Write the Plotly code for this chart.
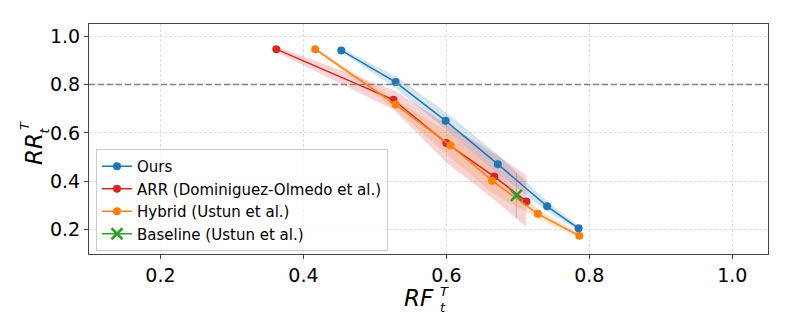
"""
Recourse trade-off chart: RR_t^T vs RF_t^T for several methods, with shaded std bands.
"""

import plotly.graph_objects as go

# Series values
ours_x = [0.453, 0.529, 0.599, 0.672, 0.741, 0.785]
ours_y = [0.941, 0.810, 0.650, 0.471, 0.297, 0.206]
ours_std = [0.008, 0.025, 0.035, 0.04, 0.02, 0.01]

arr_x = [0.362, 0.526, 0.600, 0.667, 0.712]
arr_y = [0.946, 0.737, 0.558, 0.420, 0.317]
arr_std = [0.012, 0.04, 0.08, 0.096, 0.107]

hybrid_x = [0.4165, 0.529, 0.606, 0.664, 0.728, 0.786]
hybrid_y = [0.946, 0.717, 0.548, 0.403, 0.266, 0.175]
hybrid_std = [0.006, 0.02, 0.05, 0.05, 0.02, 0.01]

baseline_x = [0.698]
baseline_y = [0.342]
baseline_err = [0.093]

threshold = 0.8
tick_vals = [0.2, 0.4, 0.6, 0.8, 1.0]

COLORS = {
    "blue": "#1f77b4",
    "red": "#d62728",
    "orange": "#ff7f0e",
    "green": "#2ca02c",
}
FONT = "DejaVu Sans"

# The page body adds an 8px offset, so margins are shifted to compensate.
OFFSET = 8
# pixel geometry of the plot area in the final picture
L, R, T, B = 89, 768, 24, 254
W, H = 793, 331


def px_to_paper(px, py):
    return (px - L) / (R - L), (B - py) / (B - T)


def rgba(hex_color, alpha):
    h = hex_color.lstrip("#")
    r, g, b = int(h[0:2], 16), int(h[2:4], 16), int(h[4:6], 16)
    return f"rgba({r},{g},{b},{alpha})"


fig = go.Figure()

series = [
    ("Ours", ours_x, ours_y, ours_std, "blue"),
    ("ARR (Dominiguez-Olmedo et al.)", arr_x, arr_y, arr_std, "red"),
    ("Hybrid (Ustun et al.)", hybrid_x, hybrid_y, hybrid_std, "orange"),
]

# shaded bands first
for name, xs, ys, sd, color in series:
    upper = [y + s for y, s in zip(ys, sd)]
    lower = [y - s for y, s in zip(ys, sd)]
    fig.add_trace(
        go.Scatter(
            x=xs + xs[::-1],
            y=upper + lower[::-1],
            fill="toself",
            fillcolor=rgba(COLORS[color], 0.2),
            line=dict(width=0),
            mode="lines",
            hoverinfo="skip",
            showlegend=False,
        )
    )

for name, xs, ys, sd, color in series:
    fig.add_trace(
        go.Scatter(
            x=xs,
            y=ys,
            name=name,
            mode="lines+markers",
            line=dict(color=COLORS[color], width=1.5),
            marker=dict(size=8, color=COLORS[color]),
        )
    )

fig.add_trace(
    go.Scatter(
        x=baseline_x,
        y=baseline_y,
        name="Baseline (Ustun et al.)",
        mode="lines+markers",
        line=dict(color=COLORS["green"], width=1.5),
        marker=dict(symbol="x-thin", size=11, color=COLORS["green"],
                    line=dict(width=2.5, color=COLORS["green"])),
        error_y=dict(type="data", array=baseline_err, color="rgba(128,128,128,0.45)",
                     thickness=1, width=0),
    )
)

fig.add_hline(y=threshold, line_dash="6px,3px", line_color="#808080", line_width=1.5)

axis_common = dict(
    range=[0.1, 1.05],
    tickvals=tick_vals,
    tickformat=".1f",
    tickfont=dict(family=FONT, size=19, color="black"),
    showgrid=True,
    gridcolor="#dcdcdc",
    griddash="3px,2px",
    gridwidth=1,
    zeroline=False,
    showline=True,
    mirror=True,
    linecolor="#444444",
    linewidth=1,
    ticks="outside",
    ticklen=4,
    tickcolor="#444444",
)

fig.update_layout(
    width=W,
    height=H,
    margin=dict(l=L - OFFSET, r=W - R + OFFSET, t=T - OFFSET, b=H - B + OFFSET),
    paper_bgcolor="white",
    plot_bgcolor="white",
    xaxis=axis_common,
    yaxis=axis_common,
    legend=dict(
        x=px_to_paper(96, 0)[0],
        y=px_to_paper(0, 251)[1],
        xanchor="left",
        yanchor="bottom",
        font=dict(family=FONT, size=15, color="black"),
        bgcolor="rgba(255,255,255,0.8)",
        bordercolor="#cccccc",
        borderwidth=1,
        itemwidth=30,
        tracegroupgap=0,
    ),
    font=dict(family=FONT),
)

# axis labels built from pieces so the sub/superscripts stack like mathtext
label_parts = [
    # (text, px, py, size, angle)
    ("<i>RR</i>", 34, 149, 23, -90),
    ("<i>T</i>", 24, 126, 13, -90),
    ("<i>t</i>", 43.5, 131, 13, -90),
    ("<i>RF</i>", 419, 298, 23, 0),
    ("<i>T</i>", 444, 291, 13, 0),
    ("<i>t</i>", 443, 307, 13, 0),
]
for text, px, py, size, angle in label_parts:
    ax_, ay_ = px_to_paper(px, py)
    fig.add_annotation(
        text=text,
        x=ax_,
        y=ay_,
        xref="paper",
        yref="paper",
        xanchor="center",
        yanchor="middle",
        showarrow=False,
        textangle=angle,
        borderpad=0,
        font=dict(family=FONT, size=size, color="black"),
    )

fig.write_html("out.html")
